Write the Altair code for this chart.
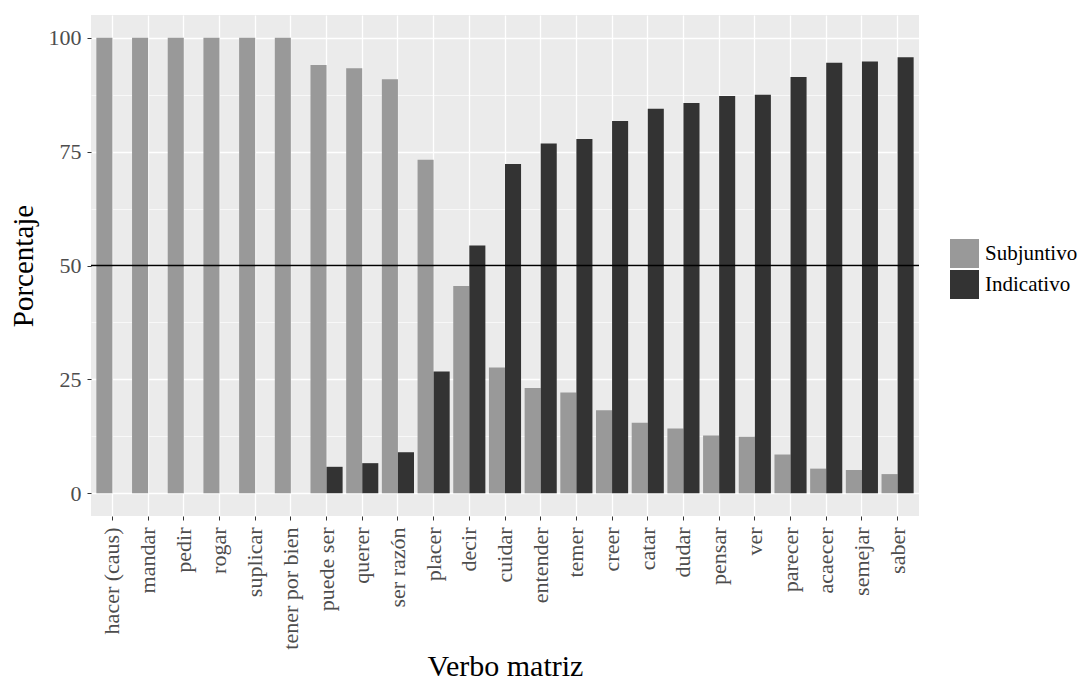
import altair as alt
import pandas as pd

verbos = ["hacer (caus)", "mandar", "pedir", "rogar", "suplicar", "tener por bien",
          "puede ser", "querer", "ser razón", "placer", "decir", "cuidar", "entender",
          "temer", "creer", "catar", "dudar", "pensar", "ver", "parecer", "acaecer",
          "semejar", "saber"]
subjuntivo = [100, 100, 100, 100, 100, 100, 94.0, 93.3, 90.9, 73.2, 45.5, 27.6, 23.1,
              22.1, 18.2, 15.5, 14.2, 12.7, 12.4, 8.5, 5.4, 5.1, 4.2]
indicativo = [0, 0, 0, 0, 0, 0, 5.8, 6.6, 9.0, 26.7, 54.4, 72.3, 76.8, 77.8, 81.7,
              84.4, 85.7, 87.2, 87.5, 91.4, 94.5, 94.8, 95.7]
modos = ["Subjuntivo", "Indicativo"]
colores = ["#999999", "#333333"]
y_ticks = [0, 12.5, 25, 37.5, 50, 62.5, 75, 87.5, 100]
umbral = [50]

rows = []
for v, s, i in zip(verbos, subjuntivo, indicativo):
    rows.append({"verbo": v, "modo": modos[0], "pct": s})
    rows.append({"verbo": v, "modo": modos[1], "pct": i})
df = pd.DataFrame(rows)

FONT = "Liberation Serif"
major = "datum.value % 25 === 0"

bars = alt.Chart(df).mark_bar().encode(
    x=alt.X("verbo:N", sort=verbos, title="Verbo matriz",
            scale=alt.Scale(paddingInner=0.1, paddingOuter=0.15),
            axis=alt.Axis(labelAngle=-90, labelFont=FONT, labelFontSize=22,
                          labelColor="#4d4d4d", labelPadding=7, tickColor="#333333",
                          tickSize=4, domain=False, grid=True, gridColor="white",
                          gridWidth=1.3, bandPosition=0.5,
                          titleFont=FONT, titleFontSize=30, titleFontWeight="normal",
                          titleColor="black", titleBaseline="alphabetic", titleY=159)),
    xOffset=alt.XOffset("modo:N", sort=modos,
                        scale=alt.Scale(paddingInner=0, paddingOuter=0)),
    y=alt.Y("pct:Q", title="Porcentaje", stack=None,
            scale=alt.Scale(domain=[-5, 105], nice=False),
            axis=alt.Axis(values=y_ticks,
                          labelExpr="datum.value % 25 === 0 ? datum.label : ''",
                          labelFont=FONT, labelFontSize=22, labelColor="#4d4d4d",
                          labelPadding=6, tickColor="#333333", tickSize=4,
                          tickOpacity={"condition": {"test": major, "value": 1}, "value": 0},
                          domain=False, grid=True, gridColor="white",
                          gridWidth={"condition": {"test": major, "value": 1.3}, "value": 0.65},
                          titleFont=FONT, titleFontSize=29, titleFontWeight="normal",
                          titleColor="black", titleBaseline="alphabetic",
                          titleX=-59, titleY=250.5, titleAlign="center")),
    y2=alt.datum(0),
    color=alt.Color("modo:N", sort=modos,
                    scale=alt.Scale(domain=modos, range=colores),
                    legend=alt.Legend(title=None, orient="none", legendX=859, legendY=224,
                                      symbolType="square", symbolSize=841,
                                      symbolStrokeWidth=0, symbolOpacity=1,
                                      labelFont=FONT, labelFontSize=21, labelColor="black",
                                      labelOffset=6, rowPadding=2)),
)

rule = alt.Chart(pd.DataFrame({"pct": umbral})).mark_rule(
    color="black", strokeWidth=1.3).encode(y=alt.Y("pct:Q", title="Porcentaje"))

chart = alt.layer(bars, rule).properties(
    width=828, height=501,
    background="white",
    padding={"left": 83, "top": 7, "right": 161, "bottom": 167},
    autosize=alt.AutoSizeParams(type="none"),
).configure_view(fill="#EBEBEB", stroke="transparent", strokeWidth=0)

chart.save("out.html", embed_options={"renderer": "svg", "actions": False})
